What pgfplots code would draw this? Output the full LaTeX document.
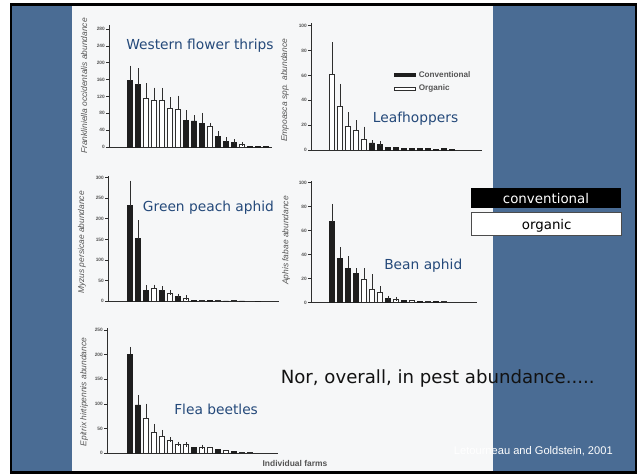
\documentclass[border=0pt]{standalone}
\usepackage{fontspec}
\setmainfont{Liberation Sans}
\newfontfamily\dejavu{DejaVu Sans}
\usepackage{pgfplots}
\pgfplotsset{compat=1.18}
\definecolor{bgblue}{HTML}{4A6C94}
\definecolor{panel}{HTML}{F6F7F8}
\definecolor{axc}{HTML}{2E2E2E}
\definecolor{barblk}{HTML}{1E1E1E}
\definecolor{tickc}{HTML}{555555}
\definecolor{ttl}{HTML}{24497A}
\pgfplotsset{
 pan/.style={
  scale only axis, anchor=south west, enlargelimits=false,
  axis lines=left, axis line style={-, draw=axc, line width=0.7pt},
  ymin=0, xtick=\empty,
  ybar, bar width=0.135cm,
  tick align=outside, major tick length=0.07cm,
  ytick style={draw=axc, line width=0.5pt},
  yticklabel style={font=\fontsize{3.4}{3.7}\selectfont\bfseries, text=tickc, inner sep=0.8pt},
  /pgf/number format/assume math mode=true,
  ylabel style={font=\fontsize{6}{7}\selectfont\itshape, text=tickc, anchor=center},
  clip=false,
 },
 eb/.style={/pgfplots/error bars/y dir=plus, /pgfplots/error bars/y explicit,
  /pgfplots/error bars/error bar style={draw=axc, line width=0.5pt},
  /pgfplots/error bars/error mark options={draw=axc, line width=0.5pt, mark size=1.6pt}},
 conv/.style={fill=barblk, draw=barblk, line width=0.5pt, bar shift=0pt},
 org/.style={fill=white, draw=axc, line width=0.7pt, bar shift=0pt},
}
\begin{document}
\begin{tikzpicture}[x=0.025cm,y=0.025cm]
\fill[white] (0,0) rectangle (640,474);
\fill[bgblue] (11,1) rectangle (636,470);
\fill[panel] (72,2) rectangle (493,469);
\draw[black, line width=2.1pt] (11,1.5) rectangle (636,469.5);
\coordinate (o1) at (109,327);
\coordinate (o2) at (311,324);
\coordinate (o3) at (108,172.7);
\coordinate (o4) at (311,171.3);
\coordinate (o5) at (107,20.7);

% Western flower thrips
\begin{axis}[pan, at={(o1)}, width=4.075cm, height=3.05cm, xmin=-1.625, xmax=18.75, ymax=290,
  ytick={0,40,...,280}, ylabel={Frankliniella occidentalis abundance},
  ylabel style={at={(axis description cs:-0.153,0.5)}}]
\addplot[conv, eb] coordinates {(1,158) +- (0,30) (2,148) +- (0,34) (8,63) +- (0,19) (9,62) +- (0,8)
  (10,56) +- (0,20) (12,25) +- (0,8) (13,14) +- (0,4) (14,11) +- (0,2)};
\addplot[conv] coordinates {(16,2) (17,1) (18,1)};
\addplot[org, eb] coordinates {(3,115) +- (0,31) (4,110) +- (0,26) (5,110) +- (0,25) (6,92) +- (0,21)
  (7,90) +- (0,27) (11,49) +- (0,3) (15,6) +- (0,1)};
\end{axis}

% Leafhoppers
\begin{axis}[pan, at={(o2)}, width=4.275cm, height=3.1675cm, xmin=-1.625, xmax=19.75, ymax=102,
  ytick={0,20,...,100}, ylabel={Empoasca spp. abundance},
  ylabel style={at={(axis description cs:-0.152,0.47)}},
  legend cell align=left,
  legend style={at={(0.485,0.647)}, anchor=north west, draw=none, fill=none,
    font=\fontsize{5.8}{6.5}\selectfont\bfseries, text=tickc, row sep=0pt, inner sep=0pt},
  legend image code/.code={\draw[#1] (0cm,-0.04cm) rectangle (0.52cm,0.04cm);}]
\addplot[conv, eb] coordinates {(6,5.7) +- (0,0.5) (7,4.6) +- (0,0.5)};
\addlegendentry{Conventional}
\addplot[org, eb] coordinates {(1,61) +- (0,24) (2,35) +- (0,16.5) (3,18.6) +- (0,10) (4,15.4) +- (0,6.6) (5,8.4) +- (0,8.6)};
\addlegendentry{Organic}
\addplot[conv, forget plot] coordinates {(8,2) (9,2)
  (10,1.5) (11,1.2) (12,1) (13,1) (14,0.8) (15,1.5) (16,0.4)};
\end{axis}

% Green peach aphid
\begin{axis}[pan, at={(o3)}, width=4.275cm, height=3.125cm, xmin=-1.75, xmax=19.625, ymax=303,
  ytick={0,50,...,300}, ylabel={Myzus persicae abundance},
  ylabel style={at={(axis description cs:-0.152,0.47)}}]
\addplot[conv, eb] coordinates {(1,232) +- (0,55) (2,152) +- (0,39) (3,27) +- (0,7) (5,26) +- (0,5)
  (7,11) +- (0,2)};
\addplot[conv] coordinates {(9,2) (11,1.5) (13,1) (15,1) (17,0.5)};
\addplot[org, eb] coordinates {(4,30) +- (0,5) (6,18) +- (0,3) (8,8) +- (0,1)};
\addplot[org] coordinates {(10,2) (12,1.5) (14,1) (16,0.5)};
\end{axis}

% Bean aphid
\begin{axis}[pan, at={(o4)}, width=4.15cm, height=3.05cm, xmin=-1.625, xmax=19.125, ymax=101.7,
  ytick={0,20,...,100}, ylabel={Aphis fabae abundance},
  ylabel style={at={(axis description cs:-0.15,0.51)}}]
\addplot[conv, eb] coordinates {(1,67.5) +- (0,13) (2,37) +- (0,7.4) (3,28.6) +- (0,8.4) (4,24.4) +- (0,2.6)
  (8,3.5) +- (0,0.5)};
\addplot[conv] coordinates {(10,1.8) (12,1.2) (14,1.2)};
\addplot[org, eb] coordinates {(5,19.4) +- (0,7.6) (6,11) +- (0,10.7) (7,8.3) +- (0,3.7) (9,2.5) +- (0,0.5)};
\addplot[org] coordinates {(11,1.5) (13,1) (15,1) (16,0.5) (17,0.4)};
\end{axis}

% Flea beetles
\begin{axis}[pan, at={(o5)}, width=4.275cm, height=3.125cm, xmin=-1.875, xmax=19.5, ymax=253.4,
  ytick={0,50,...,250}, ylabel={Epitrix hirtipennis abundance},
  ylabel style={at={(axis description cs:-0.134,0.49)}}]
\addplot[conv, eb] coordinates {(1,200.7) +- (0,10.3) (2,98) +- (0,15.5)};
\addplot[conv] coordinates {(9,12) (12,8) (14,4)};
\addplot[org, eb] coordinates {(3,71) +- (0,25) (4,42) +- (0,13) (5,35) +- (0,8) (6,25) +- (0,3) (7,18) +- (0,1)
  (8,17) +- (0,1) (10,12) +- (0,1)};
\addplot[org] coordinates {(11,11) (13,5) (15,2) (16,1)};
\end{axis}

\node[anchor=base, font=\fontsize{6}{7}\selectfont\bfseries, text=tickc, inner sep=0] at (295,7) {Individual farms};

% slide overlays
\begin{scope}[every node/.style={inner sep=0, font=\dejavu\fontsize{9.8}{11}\selectfont, text=ttl}]
\node[anchor=base west] at (126,424.7) {Western flower thrips};
\node[anchor=base west] at (372.7,351.3) {Leafhoppers};
\node[anchor=base west] at (142.7,262.3) {Green peach aphid};
\node[anchor=base west] at (384,204.7) {Bean aphid};
\node[anchor=base west] at (174,59) {Flea beetles};
\end{scope}
\node[anchor=base west, inner sep=0, font=\dejavu\fontsize{12.9}{14}\selectfont, text=black!93] at (280.5,90.7) {Nor, overall, in pest abundance.....};
\fill[black] (471,265.7) rectangle (621,285.7);
\node[anchor=base, inner sep=0, font=\dejavu\fontsize{9.5}{11}\selectfont, text=white] at (546,270) {conventional};
\filldraw[fill=white, draw=black!70, line width=0.4pt] (471.7,239) rectangle (621,261.3);
\node[anchor=base, inner sep=0, font=\dejavu\fontsize{9.5}{11}\selectfont, text=black] at (546.7,244) {organic};
\node[anchor=base east, inner sep=0, font=\fontsize{7.9}{9}\selectfont, text=white] at (613,19.7) {Letourneau and Goldstein, 2001};
\end{tikzpicture}
\end{document}
